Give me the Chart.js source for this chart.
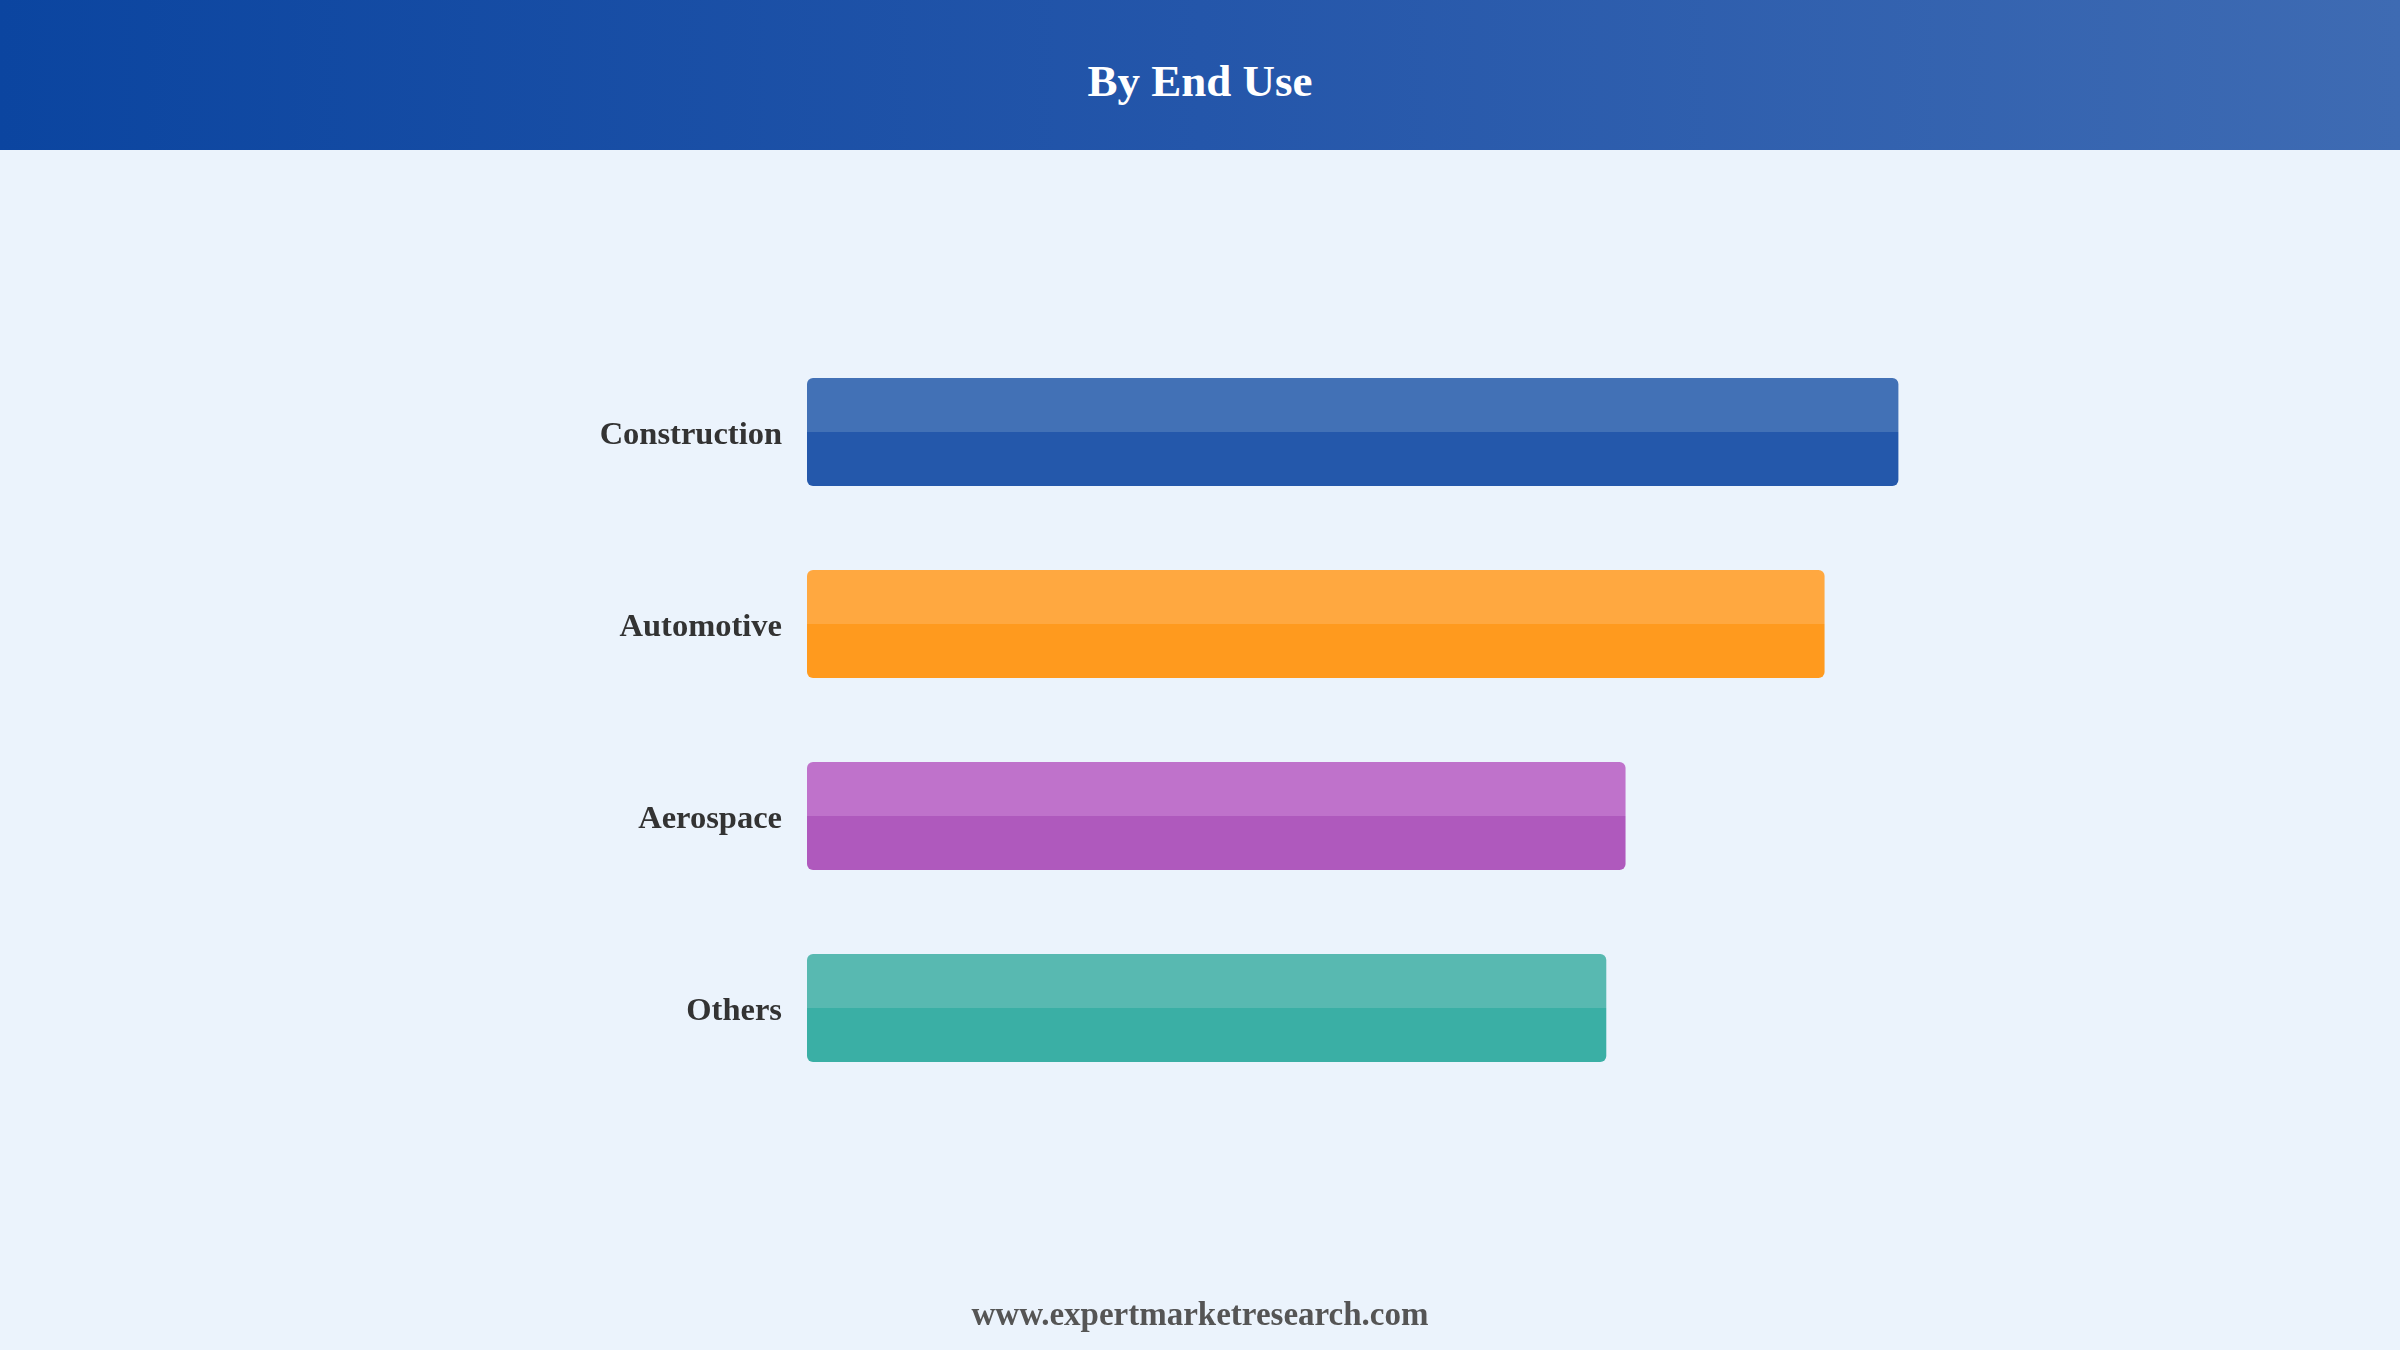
<!DOCTYPE html>
<html lang="en">
<head>
    <meta charset="UTF-8">
    <title>By End Use</title>
    <script src="https://cdn.jsdelivr.net/npm/chart.js"></script>
    <style>
        html, body {
            margin: 0;
            padding: 0;
            width: 2400px;
            height: 1350px;
            overflow: hidden;
            background-color: #ebf3fc;
            font-family: "Liberation Serif", "Times New Roman", serif;
        }
        .header {
            position: absolute;
            left: 0;
            top: 0;
            width: 2400px;
            height: 150px;
            background: linear-gradient(to right, #0b45a0, #2456aa 50%, #3e6bb3);
            color: #fff;
            font-weight: bold;
            font-size: 45px;
            text-align: center;
            line-height: 162px;
        }
        #chartBox {
            position: absolute;
            left: 0;
            top: 150px;
            width: 2400px;
            height: 1200px;
        }
        .footer {
            position: absolute;
            left: 0;
            width: 2400px;
            top: 1296px;
            text-align: center;
            font-weight: bold;
            font-size: 33px;
            color: #555;
        }
    </style>
</head>
<body>

    <div class="header">By End Use</div>

    <div id="chartBox">
        <canvas id="endUseChart"></canvas>
    </div>

    <div class="footer">www.expertmarketresearch.com</div>

    <script>
        // data
        const categories = ['Construction', 'Automotive', 'Aerospace', 'Others'];
        const shares = [34, 31.7, 25.5, 24.9];
        const axisMax = 40;

        // two tones per bar: lighter upper half, darker lower half
        const topColors = ['#4271b6', '#ffa840', '#bf72cb', '#58b9b1'];
        const bottomColors = ['#2458ab', '#ff9a1e', '#af59bd', '#3aafa5'];

        const barPct = 0.5625;

        function twoTone(c) {
            const i = c.dataIndex;
            if (i === undefined) return bottomColors[0];
            const yScale = c.chart.scales.y;
            if (!yScale || !yScale.height) return bottomColors[i];
            const yc = yScale.getPixelForValue(i);
            const h = yScale.height / categories.length * barPct;
            const g = c.chart.ctx.createLinearGradient(0, yc - h / 2, 0, yc + h / 2);
            g.addColorStop(0, topColors[i]);
            g.addColorStop(0.5, topColors[i]);
            g.addColorStop(0.5, bottomColors[i]);
            g.addColorStop(1, bottomColors[i]);
            return g;
        }

        const ctx = document.getElementById('endUseChart').getContext('2d');

        const endUseChart = new Chart(ctx, {
            type: 'bar',
            data: {
                labels: categories,
                datasets: [{
                    data: shares,
                    backgroundColor: twoTone,
                    borderRadius: 6,
                    borderSkipped: false,
                    barPercentage: barPct,
                    categoryPercentage: 1
                }]
            },
            options: {
                indexAxis: 'y',
                responsive: true,
                maintainAspectRatio: false,
                animation: false,
                layout: {
                    padding: { top: 186, bottom: 246, left: 0, right: 309 }
                },
                plugins: {
                    legend: { display: false },
                    tooltip: { enabled: false }
                },
                scales: {
                    x: {
                        display: false,
                        min: 0,
                        max: axisMax
                    },
                    y: {
                        grid: { display: false },
                        border: { display: false },
                        afterFit: function (scale) { scale.width = 807; },
                        ticks: {
                            padding: 17,
                            labelOffset: 4,
                            color: '#333',
                            font: {
                                family: '"Liberation Serif", "Times New Roman", serif',
                                size: 32.5,
                                weight: 'bold'
                            }
                        }
                    }
                }
            }
        });
    </script>

</body>
</html>
